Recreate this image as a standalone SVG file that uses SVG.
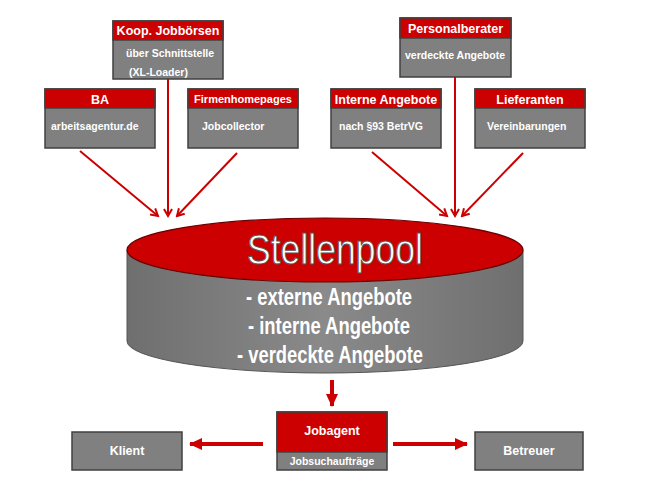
<svg xmlns="http://www.w3.org/2000/svg" width="652" height="489" viewBox="0 0 652 489">
<defs>
<marker id="v" markerWidth="10" markerHeight="10" refX="8" refY="5" orient="auto" markerUnits="userSpaceOnUse">
<path d="M1,1 L8,5 L1,9" fill="none" stroke="#CC0000" stroke-width="2"/>
</marker>
<marker id="tri" markerWidth="14" markerHeight="14" refX="12" refY="7" orient="auto" markerUnits="userSpaceOnUse">
<path d="M0,1 L13,7 L0,13 Z" fill="#CC0000"/>
</marker>
<linearGradient id="side" x1="0" y1="0" x2="1" y2="0">
<stop offset="0" stop-color="#6f6f6f"/>
<stop offset="0.5" stop-color="#8a8a8a"/>
<stop offset="1" stop-color="#6f6f6f"/>
</linearGradient>
</defs>
<style>
.red{fill:#CC0000;stroke:#404040;stroke-width:1.5}
.gray{fill:#808080;stroke:#404040;stroke-width:1.5}
.h{font-family:"Liberation Sans",Arial,sans-serif;font-weight:bold;font-size:12.5px;fill:#fff;text-anchor:middle}
.b{font-family:"Liberation Sans",Arial,sans-serif;font-weight:bold;font-size:10.5px;fill:#fff}
.ln{stroke:#CC0000;stroke-width:2;fill:none}
.th{stroke:#CC0000;stroke-width:4;fill:none}
.big{font-family:"Liberation Sans",Arial,sans-serif;fill:#fff;text-anchor:middle}
</style>
<rect width="652" height="489" fill="#fff"/>

<g id="connectors">
<line class="ln" x1="168" y1="79" x2="168" y2="216" marker-end="url(#v)"/>
<line class="ln" x1="80" y1="151" x2="158" y2="216" marker-end="url(#v)"/>
<line class="ln" x1="237" y1="153" x2="177" y2="216" marker-end="url(#v)"/>
<line class="ln" x1="455" y1="77" x2="455" y2="216" marker-end="url(#v)"/>
<line class="ln" x1="372" y1="152" x2="447" y2="216" marker-end="url(#v)"/>
<line class="ln" x1="523" y1="153" x2="462" y2="216" marker-end="url(#v)"/>
<line class="th" x1="332" y1="380" x2="332" y2="406" marker-end="url(#tri)"/>
<line class="th" x1="263" y1="444" x2="190" y2="444" marker-end="url(#tri)"/>
<line class="th" x1="393" y1="444" x2="467" y2="444" marker-end="url(#tri)"/>
</g>

<g id="koop">
<rect class="gray" x="113" y="21" width="110" height="58"/>
<rect class="red" x="113" y="21" width="110" height="19"/>
<text class="h" x="168" y="35">Koop. Jobbörsen</text>
<text class="b" x="126" y="57">über Schnittstelle</text>
<text class="b" x="129" y="76">(XL-Loader)</text>
</g>

<g id="personalberater">
<rect class="gray" x="400" y="18" width="111" height="59"/>
<rect class="red" x="400" y="18" width="111" height="20"/>
<text class="h" x="455.5" y="33">Personalberater</text>
<text class="b" x="405" y="59">verdeckte Angebote</text>
</g>

<g id="ba">
<rect class="gray" x="45" y="89" width="110" height="59"/>
<rect class="red" x="45" y="89" width="110" height="19"/>
<text class="h" x="100" y="104">BA</text>
<text class="b" x="51" y="130">arbeitsagentur.de</text>
</g>

<g id="firmenhomepages">
<rect class="gray" x="188" y="89" width="110" height="59"/>
<rect class="red" x="188" y="89" width="110" height="19"/>
<text class="h" x="243" y="103" style="font-size:11px">Firmenhomepages</text>
<text class="b" x="202" y="130">Jobcollector</text>
</g>

<g id="interne">
<rect class="gray" x="331" y="89" width="110" height="59"/>
<rect class="red" x="331" y="89" width="110" height="19"/>
<text class="h" x="386" y="104">Interne Angebote</text>
<text class="b" x="339" y="130">nach §93 BetrVG</text>
</g>

<g id="lieferanten">
<rect class="gray" x="475" y="89" width="110" height="59"/>
<rect class="red" x="475" y="89" width="110" height="19"/>
<text class="h" x="530" y="104">Lieferanten</text>
<text class="b" x="487" y="130">Vereinbarungen</text>
</g>

<g id="stellenpool">
<path d="M127,250 L127,341 A198,32 0 0 0 523,341 L523,250 Z" fill="url(#side)" stroke="#555" stroke-width="1"/>
<ellipse cx="325" cy="250" rx="198" ry="32" fill="#CC0000" stroke="#6a0000" stroke-width="1.2"/>
<text class="big" x="335" y="264" font-size="42" stroke="#555" stroke-width="1" textLength="176" lengthAdjust="spacingAndGlyphs">Stellenpool</text>
<text class="big" x="329" y="305" font-size="23" font-weight="bold" textLength="166" lengthAdjust="spacingAndGlyphs">- externe Angebote</text>
<text class="big" x="329" y="334" font-size="23" font-weight="bold" textLength="162" lengthAdjust="spacingAndGlyphs">- interne Angebote</text>
<text class="big" x="330" y="363" font-size="23" font-weight="bold" textLength="186" lengthAdjust="spacingAndGlyphs">- verdeckte Angebote</text>
</g>

<g id="jobagent">
<rect class="gray" x="277" y="412" width="110" height="58"/>
<rect class="red" x="277" y="412" width="110" height="40"/>
<text class="h" x="332" y="435">Jobagent</text>
<text class="b" x="332" y="465" style="font-size:10.5px;text-anchor:middle">Jobsuchaufträge</text>
</g>

<g id="klient">
<rect class="gray" x="72" y="432" width="110" height="38"/>
<text class="h" x="127" y="455">Klient</text>
</g>

<g id="betreuer">
<rect class="gray" x="475" y="432" width="108" height="38"/>
<text class="h" x="529" y="455">Betreuer</text>
</g>
</svg>
